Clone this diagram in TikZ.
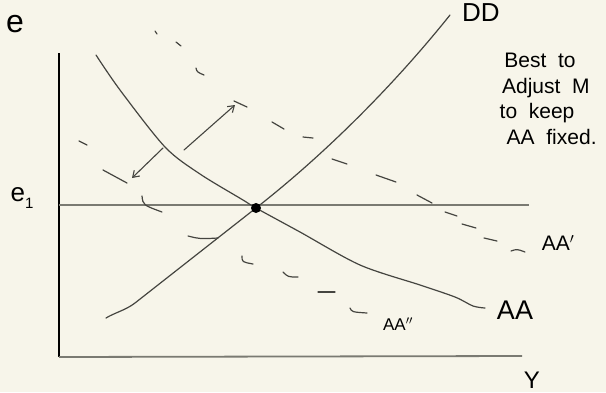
\documentclass[tikz,border=0pt]{standalone}
\usepackage{fontspec}
\setmainfont{Liberation Sans}
\usetikzlibrary{arrows.meta}
\definecolor{paper}{HTML}{F7F5EA}
\definecolor{ink}{HTML}{454540}
\definecolor{rule}{HTML}{7A7A72}
\tikzset{
  curve/.style={draw=ink, line width=1.2pt, line cap=round, line join=round},
  dashstroke/.style={draw=ink, line width=1.2pt, line cap=round},
  axisline/.style={draw=black, line width=1.2pt},
  levelline/.style={draw=rule, line width=1.8pt},
  shiftarrow/.style={draw=ink, line width=1.1pt, line cap=round, -{Straight Barb[length=6pt,width=8pt]}},
  lbl/.style={inner sep=0pt, text=black},
  eqdot/.style={circle, fill=black, minimum size=10pt, inner sep=0pt}
}
\begin{document}
\begin{tikzpicture}[x=1pt,y=-1pt]
\fill[paper] (0,0) rectangle (606,392);
\useasboundingbox (0,0) rectangle (606,392);

% axes
\coordinate (yTop) at (59,53);
\coordinate (origin) at (59,357);
\coordinate (xEnd) at (522,356);
\draw[axisline] (yTop) -- (origin);
\draw[levelline] (origin) -- (xEnd);

% e1 level line
\coordinate (e1L) at (59,205);
\coordinate (e1R) at (529,205);
\draw[levelline] (e1L) -- (e1R);

% DD curve
\draw[curve] (106,318) .. controls (114,313) and (126,310) .. (135,303)
  -- (256,208) .. controls (320,158) and (390,90) .. (450,15);

% AA curve
\draw[curve] plot[smooth, tension=0.5] coordinates {(96,55) (120,90) (165,147) (200,174) (243,200) (256,208) (300,232) (360,265) (420,285) (455,297) (473,306) (485,308)};

% AA' dashes
\draw[dashstroke] (155,31) -- (157,34);
\draw[dashstroke] (176,42) -- (181,46);
\draw[dashstroke] (196,68) .. controls (197,72) .. (204,75);
\draw[dashstroke] (234,101) -- (247,107);
\draw[dashstroke] (272,122) -- (284,129);
\draw[dashstroke] (303,137) -- (313,138);
\draw[dashstroke] (332,159) -- (347,164);
\draw[dashstroke] (376,175) -- (396,182);
\draw[dashstroke] (417,195) -- (432,203);
\draw[dashstroke] (445,212) -- (457,216);
\draw[dashstroke] (462,224) -- (476,228);
\draw[dashstroke] (484,238) -- (497,241);
\draw[dashstroke] (511,251) .. controls (517,249) .. (525,252);

% AA'' dashes
\draw[dashstroke] (79,141) -- (87,145);
\draw[dashstroke] (103,170) -- (127,183);
\draw[dashstroke] (142,196) .. controls (143,205) .. (162,212);
\draw[dashstroke] (188,236) .. controls (200,239) .. (218,238);
\draw[dashstroke] (242,256) .. controls (242,262) .. (253,264);
\draw[dashstroke] (283,272) .. controls (288,277) .. (298,277);
\draw[dashstroke] (318,292) -- (335,292);
\draw[dashstroke] (350,308) .. controls (352,312) .. (367,313);

% shift arrows
\coordinate (upFrom) at (184,150);
\coordinate (upTo) at (235,105);
\coordinate (dnFrom) at (163,148);
\coordinate (dnTo) at (132,178);
\draw[shiftarrow] (upFrom) -- (upTo);
\draw[shiftarrow] (dnFrom) -- (dnTo);

% equilibrium point
\node[eqdot] (eq) at (256,208) {};

% labels
\node[lbl, font=\fontsize{32}{32}\selectfont] (eLbl) at (15,24) {e};
\node[lbl, font=\fontsize{26}{26}\selectfont] (e1Lbl) at (22,198) {e\raisebox{-7pt}{\fontsize{15}{15}\selectfont 1}};
\node[lbl, font=\fontsize{26}{26}\selectfont] (ddLbl) at (481,13) {DD};
\node[lbl, font=\fontsize{27}{27}\selectfont] (aaLbl) at (515,310) {AA};
\node[lbl, font=\fontsize{21}{21}\selectfont] (aapLbl) at (558,243) {AA$'$};
\node[lbl, font=\fontsize{17}{17}\selectfont] (aappLbl) at (398,324) {AA$''$};
\node[lbl, font=\fontsize{24}{24}\selectfont] (yLbl) at (532,380) {Y};
\node[lbl, font=\fontsize{21}{25.7}\selectfont, align=center] (note) at (540,99)
  {Best \ to\\ \ \ Adjust \ M\\ to \ keep \ \ \\ \ \ \ \ AA \ fixed.};
\end{tikzpicture}
\end{document}
